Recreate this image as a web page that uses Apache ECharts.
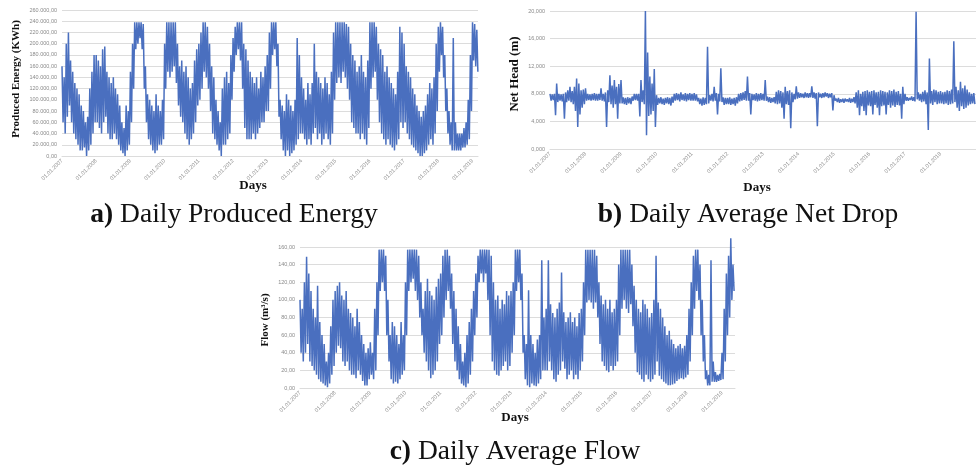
<!DOCTYPE html>
<html><head><meta charset="utf-8">
<script src="https://cdn.jsdelivr.net/npm/echarts@6/dist/echarts.min.js"></script>
<style>html,body{margin:0;padding:0;background:#fff}#c{width:976px;height:467px}</style>
</head><body><div id="c"></div>
<script>
// ---- data ----
const START_YEAR = 2007;
const SAMPLES_PER_YEAR = 16;   // one high/low reading pair per 1/16 year
const yearLabels = ['01.01.2007','01.01.2008','01.01.2009','01.01.2010','01.01.2011','01.01.2012','01.01.2013','01.01.2014','01.01.2015','01.01.2016','01.01.2017','01.01.2018','01.01.2019'];
const energyTickLabels = ['0,00','20.000,00','40.000,00','60.000,00','80.000,00','100.000,00','120.000,00','140.000,00','160.000,00','180.000,00','200.000,00','220.000,00','240.000,00','260.000,00'];
const headTickLabels = ['0,000','4,000','8,000','12,000','16,000','20,000'];
const flowTickLabels = ['0,00','20,00','40,00','60,00','80,00','100,00','120,00','140,00','160,00'];

// Daily produced energy, thousand kWh (upper / lower envelope per sample)
const energyHi = [
160,140,200,220,170,150,130,120,110,90,80,60,70,120,150,180,
180,170,160,190,195,150,140,130,140,120,110,90,60,50,90,80,
150,200,238,238,238,238,235,160,110,100,90,80,110,90,80,100,
200,238,238,238,238,238,200,160,170,150,160,140,120,130,170,190,
200,220,238,238,230,200,160,140,100,80,60,120,140,150,130,180,
210,230,238,238,238,200,190,170,150,140,130,140,120,150,140,160,
180,220,238,238,238,200,100,90,80,110,100,90,80,100,210,180,
140,120,100,130,110,130,200,150,140,130,120,140,130,110,150,220,
238,238,238,238,238,235,230,200,180,170,150,160,180,150,140,170,
238,238,238,230,200,190,180,150,160,140,130,120,110,150,230,220,
200,160,150,140,120,110,90,80,70,80,90,110,130,120,140,200,
230,238,230,180,120,80,60,210,60,40,40,40,50,60,100,180,
238,235,225];
const energyLo = [
60,40,70,90,60,40,30,20,10,10,15,0,10,20,40,60,
60,50,40,60,70,40,30,30,40,30,20,10,5,0,10,20,
60,120,190,200,210,190,120,60,30,20,10,5,10,20,20,30,
120,150,140,150,160,130,90,70,60,40,30,20,30,40,60,90,
100,120,150,140,120,80,40,30,20,10,0,20,20,30,40,100,
150,180,190,170,120,50,30,30,30,40,30,40,50,60,60,80,
80,120,180,190,160,70,30,10,0,10,0,5,10,20,30,40,
40,30,20,30,20,40,50,30,40,20,30,40,30,20,40,100,
130,140,130,150,140,120,100,60,50,40,40,30,40,30,20,50,
120,140,150,100,60,40,30,20,30,20,15,10,20,30,60,50,
60,40,30,20,15,10,5,0,0,5,10,20,30,20,40,80,
150,180,140,80,40,20,10,10,10,10,10,15,15,20,30,80,
170,160,150];

// Daily average net head, m
const headHi = [
8.0,7.9,8.0,9.5,8.0,7.9,8.0,8.2,8.5,9.0,8.4,9.0,10.2,9.5,8.5,8.6,
8.8,8.0,7.9,8.0,8.1,8.0,8.0,8.8,8.0,8.2,8.5,10.7,9.2,10.0,9.0,9.4,
10.0,7.5,7.4,7.5,7.4,7.6,8.0,8.0,8.0,10.0,8.5,20.0,14.0,10.5,9.5,11.6,
7.8,7.4,7.5,7.3,7.4,7.5,7.4,7.6,8.0,8.1,8.0,8.2,7.9,8.1,8.0,8.1,
8.0,8.1,7.9,7.4,7.3,7.5,7.4,14.8,7.8,8.0,9.0,8.1,8.0,11.7,7.5,7.4,
7.4,7.5,7.3,7.4,7.5,8.0,8.1,8.2,8.4,10.5,8.1,8.0,7.9,8.1,8.0,8.1,
8.0,10.0,7.6,7.5,7.4,7.5,8.3,8.5,8.4,8.2,9.0,8.4,8.5,8.2,8.0,9.1,
8.2,8.1,8.0,8.2,8.1,8.1,9.1,8.2,8.1,8.2,8.0,8.1,8.2,8.1,8.0,8.1,
7.8,7.3,7.4,7.2,7.3,7.3,7.2,7.4,7.3,7.5,8.2,8.5,8.0,8.3,8.4,8.5,
8.3,8.4,8.5,8.2,8.3,8.5,8.4,8.3,8.2,8.5,8.4,8.6,8.3,8.4,8.0,9.0,
8.0,7.5,7.4,7.6,7.5,19.9,8.2,8.0,8.3,8.5,8.2,13.1,8.4,8.6,8.5,8.3,
8.4,8.2,8.3,8.5,8.4,8.6,15.6,9.0,8.5,9.75,8.8,9.2,8.6,8.2,8.0,8.1];
const headLo = [
7.0,7.1,4.9,6.8,7.0,6.9,4.4,6.8,7.0,6.8,6.5,5.5,3.2,5.0,6.0,6.5,
7.0,7.1,7.0,7.1,7.0,7.0,7.1,7.0,6.9,3.2,6.8,6.5,6.0,6.5,4.4,6.6,
6.6,6.5,6.4,6.6,6.5,7.0,7.1,7.0,4.7,6.8,6.5,2.0,4.8,5.0,5.5,3.2,
6.4,6.6,6.5,6.4,6.6,6.5,6.3,6.7,7.0,7.1,6.9,7.1,7.0,6.9,7.1,7.0,
7.0,7.0,6.9,6.5,6.3,6.4,6.5,6.6,7.0,6.9,7.0,5.0,6.9,6.8,6.4,6.5,
6.5,6.4,6.5,6.3,6.6,6.9,7.0,7.1,7.0,7.0,5.0,7.1,7.0,6.9,7.0,7.1,
7.0,7.0,6.8,6.7,6.8,6.6,6.5,6.6,6.0,4.4,6.5,6.4,3.0,6.8,7.2,7.3,
7.4,7.5,7.4,7.5,7.4,7.5,7.4,7.3,3.3,7.5,7.4,7.5,7.6,7.4,7.5,5.6,
7.0,6.8,6.7,6.8,6.7,6.9,6.8,6.7,6.8,6.6,6.0,4.9,6.2,5.5,4.9,6.3,
6.2,5.0,6.4,6.0,4.9,6.2,6.3,5.0,6.4,6.0,6.3,6.1,6.4,6.3,4.4,6.5,
7.0,7.0,7.1,7.0,6.9,7.2,7.0,6.8,6.9,6.5,2.75,6.6,6.4,6.8,6.5,6.6,
6.6,6.5,6.6,6.4,6.5,6.6,6.8,6.0,5.5,6.2,5.8,6.0,6.3,6.5,6.6,6.5];

// Daily average flow, m3/s
const flowHi = [
100,90,120,149,130,110,90,80,116,75,60,50,30,40,70,100,
110,116,120,105,100,110,90,85,80,70,90,75,60,50,40,45,
52,40,90,120,157,157,157,150,100,60,75,70,60,50,75,60,
120,157,157,157,157,157,150,120,90,110,124,110,105,100,115,124,
130,150,157,157,150,130,110,90,70,50,30,40,60,75,90,110,
130,150,157,157,157,157,157,150,120,100,105,90,100,95,110,105,
110,120,157,157,157,130,60,50,111,60,50,40,55,60,145,80,
90,145,95,85,80,90,97,131,86,75,80,86,75,80,70,85,
90,120,157,157,157,157,157,150,120,105,95,100,90,100,86,90,
100,140,157,157,157,157,157,140,116,100,90,86,100,95,90,80,
85,100,150,97,90,80,70,60,65,55,50,45,48,50,45,48,
60,90,120,150,157,157,140,100,60,20,15,145,30,18,15,16,
40,90,130,150,170,140];
const flowLo = [
40,30,40,50,30,25,20,15,10,7,5,3,1,5,15,25,
40,48,45,30,25,30,20,15,15,11,20,15,8,3,3,10,
15,10,20,60,110,120,110,60,30,10,5,7,5,10,15,20,
60,110,120,124,110,100,80,60,40,30,20,11,15,20,30,50,
60,80,100,110,90,50,30,20,10,5,3,1,5,15,30,60,
80,120,130,120,130,100,60,30,20,15,14,20,25,30,20,25,
40,60,110,120,100,40,10,3,1,5,3,2,5,10,20,20,
20,30,20,10,7,15,20,30,22,10,15,20,10,15,10,20,
30,60,97,100,97,90,97,80,50,30,25,20,18,25,20,25,
30,60,90,100,90,85,95,70,40,18,15,10,7,15,10,7,
10,15,30,14,10,7,5,3,3,4,5,8,10,11,10,12,
15,30,60,90,110,100,60,30,10,3,3,7,7,7,8,9,
10,30,60,80,100,110];

// ---- build ----
function toPoints(hi, lo) {
  const pts = [];
  for (let i = 0; i < hi.length; i++) {
    const t = START_YEAR + i / SAMPLES_PER_YEAR;
    pts.push([t, hi[i]]);
    pts.push([t + 0.5 / SAMPLES_PER_YEAR, lo[i]]);
  }
  return pts;
}
const BLUE = '#4a6fbf';
const GRID_C = '#dcdcdc';
const tickFont = {fontFamily: 'Liberation Sans', fontSize: 5.5, color: '#8a8a8a'};
function xAx(idx, max) {
  return {
    gridIndex: idx, type: 'value', min: START_YEAR, max: max, interval: 1,
    axisLine: {show: true, lineStyle: {color: GRID_C, width: 1}},
    axisTick: {show: false}, splitLine: {show: false},
    axisLabel: Object.assign({rotate: 45, margin: 4, showMaxLabel: false,
      formatter: v => Number.isInteger(v) ? yearLabels[v - START_YEAR] : ''}, tickFont)
  };
}
function yAx(idx, max, interval, labels) {
  return {
    gridIndex: idx, type: 'value', min: 0, max: max, interval: interval,
    axisLine: {show: false}, axisTick: {show: false},
    splitLine: {show: true, lineStyle: {color: GRID_C, width: 1}},
    axisLabel: Object.assign({margin: 5, formatter: v => labels[Math.round(v / interval)]}, tickFont)
  };
}
const serif = 'Liberation Serif, Times New Roman, serif';
function vText(txt, x, y, size) {
  return {type: 'text', x: x, y: y, rotation: Math.PI / 2,
    style: {text: txt, fill: '#111', font: 'bold ' + size + 'px ' + serif, textAlign: 'center', textVerticalAlign: 'middle'}};
}
function hText(txt, x, y, size) {
  return {type: 'text', x: x, y: y,
    style: {text: txt, fill: '#111', font: 'bold ' + size + 'px ' + serif, textAlign: 'center', textVerticalAlign: 'middle'}};
}
const CAP = 27.5;
function caption(letter, rest, x, y) {
  return {type: 'text', x: x, y: y,
    style: {text: '{b|' + letter + '} ' + rest, fill: '#111', font: CAP + 'px ' + serif,
      textAlign: 'center', textVerticalAlign: 'middle',
      rich: {b: {fontWeight: 'bold', fontSize: CAP, fontFamily: serif, fill: '#111'}}}};
}
const LW = 1.5;
const chart = echarts.init(document.getElementById('c'), null, {renderer: 'canvas'});
chart.setOption({
  animation: false,
  backgroundColor: '#fff',
  grid: [
    {left: 62, top: 10, width: 416, height: 146},
    {left: 550, top: 11, width: 429, height: 138},
    {left: 300, top: 247, width: 435, height: 141}
  ],
  xAxis: [xAx(0, 2019.16), xAx(1, 2019), xAx(2, 2019.37)],
  yAxis: [yAx(0, 260, 20, energyTickLabels), yAx(1, 20, 4, headTickLabels), yAx(2, 160, 20, flowTickLabels)],
  series: [
    {type: 'line', xAxisIndex: 0, yAxisIndex: 0, data: toPoints(energyHi, energyLo), showSymbol: false, clip: false, lineStyle: {color: BLUE, width: LW}},
    {type: 'line', xAxisIndex: 1, yAxisIndex: 1, data: toPoints(headHi, headLo), showSymbol: false, clip: false, lineStyle: {color: BLUE, width: LW}},
    {type: 'line', xAxisIndex: 2, yAxisIndex: 2, data: toPoints(flowHi, flowLo), showSymbol: false, clip: false, lineStyle: {color: BLUE, width: LW}}
  ],
  graphic: [
    vText('Produced Energy (KWh)', 16, 79, 11),
    vText('Net Head (m)', 515, 74, 13),
    vText('Flow (m³/s)', 265, 320, 11),
    hText('Days', 253, 186, 13),
    hText('Days', 757, 188, 13),
    hText('Days', 515, 418, 13),
    caption('a)', 'Daily Produced Energy', 234, 215),
    caption('b)', 'Daily Average Net Drop', 748, 215),
    caption('c)', 'Daily Average Flow', 515, 452)
  ]
});
</script></body></html>
